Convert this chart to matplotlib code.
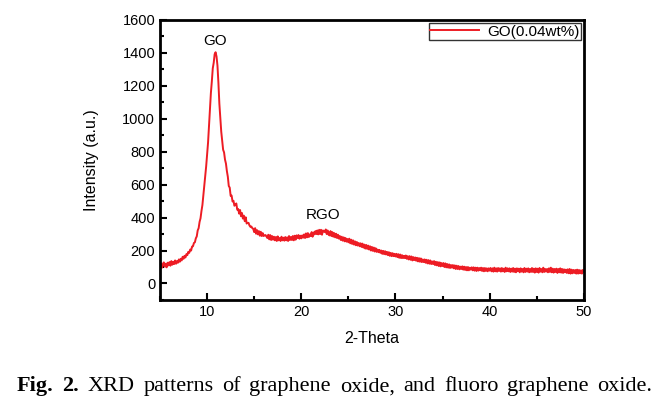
import numpy as np
import matplotlib
matplotlib.use("Agg")
from matplotlib import pyplot as plt
from matplotlib.ticker import MultipleLocator

plt.rcParams['font.family'] = ['Liberation Sans', 'DejaVu Sans']

# 2-theta from 5 to 50 deg, step 0.1
theta_start, theta_step = 5.0, 0.1
intensity = [
    100, 122, 96, 118, 128, 102, 120, 98, 126, 110,
    130, 108, 136, 114, 132, 118, 140, 120, 136, 126,
    146, 132, 150, 140, 162, 150, 168, 158, 178, 172,
    192, 186, 206, 200, 224, 226, 246, 250, 274, 286,
    322, 336, 374, 396, 440, 476, 534, 586, 654, 712,
    784, 856, 954, 1046, 1156, 1226, 1306, 1340, 1392, 1404,
    1378, 1322, 1218, 1092, 1008, 922, 868, 812, 796, 752,
    728, 682, 648, 592, 582, 532, 534, 498, 502, 472,
    478, 486, 448, 452, 424, 446, 408, 428, 394, 412,
    378, 402, 364, 368, 368, 352, 344, 346, 336, 332,
    312, 336, 302, 324, 298, 318, 290, 314, 288, 306,
    288, 292, 294, 286, 276, 296, 268, 294, 264, 288,
    266, 284, 262, 282, 258, 286, 262, 276, 258, 284,
    262, 278, 260, 282, 262, 280, 258, 288, 264, 282,
    264, 288, 262, 290, 266, 292, 276, 294, 272, 290,
    274, 292, 278, 298, 276, 304, 280, 306, 282, 298,
    288, 312, 284, 310, 298, 318, 300, 322, 298, 326,
    300, 326, 296, 322, 316, 312, 328, 300, 322, 296,
    292, 318, 288, 312, 284, 306, 280, 302, 276, 296,
    272, 288, 264, 284, 260, 280, 256, 276, 254, 270,
    250, 272, 244, 266, 240, 262, 236, 256, 232, 252,
    230, 246, 226, 244, 222, 242, 218, 236, 212, 234,
    210, 230, 206, 226, 200, 222, 198, 218, 194, 214,
    192, 206, 190, 204, 186, 200, 180, 198, 178, 196,
    176, 192, 172, 190, 168, 186, 166, 184, 166, 180,
    164, 180, 160, 178, 156, 176, 154, 172, 154, 168,
    154, 170, 150, 166, 146, 166, 144, 164, 140, 160,
    142, 158, 138, 156, 134, 154, 132, 152, 130, 146,
    130, 146, 126, 144, 122, 142, 120, 140, 118, 134,
    118, 136, 112, 132, 110, 130, 106, 128, 104, 124,
    106, 124, 100, 122, 98, 118, 96, 116, 94, 112,
    96, 112, 92, 110, 88, 108, 88, 106, 86, 102,
    88, 104, 84, 102, 82, 100, 80, 100, 80, 96,
    84, 98, 80, 98, 78, 96, 76, 96, 78, 94,
    80, 96, 76, 94, 74, 94, 76, 92, 74, 92,
    78, 94, 74, 92, 72, 96, 74, 92, 72, 94,
    76, 92, 72, 94, 74, 90, 70, 96, 74, 92,
    74, 92, 70, 90, 72, 94, 70, 90, 68, 92,
    74, 90, 68, 92, 72, 88, 68, 94, 70, 90,
    72, 92, 68, 88, 70, 94, 70, 90, 66, 92,
    70, 90, 66, 94, 72, 88, 68, 96, 70, 88,
    72, 88, 68, 92, 70, 96, 68, 90, 66, 88,
    70, 90, 64, 88, 68, 92, 66, 88, 64, 86,
    68, 84, 64, 86, 62, 88, 60, 84, 62, 82,
    64, 82, 60, 84, 60, 82, 62, 80, 60, 82,
    72,
]
two_theta = theta_start + theta_step * np.arange(len(intensity))

series_label = "GO(0.04wt%)"
peak_labels = ["GO", "RGO"]
peak_pos = [(10.8, 1430), (22.3, 375)]
caption_bold = ["Fig.", "2."]
caption_rest = "XRD patterns of graphene oxide, and fluoro graphene oxide.".split()

fig = plt.figure(figsize=(6.71, 4.07), dpi=100)
ax = fig.add_axes([0.2385, 0.263, 0.6315, 0.688])

ax.plot(two_theta, intensity, color='#ed1c24', lw=1.4, label=series_label)

ax.set_xlim(5, 50)
ax.set_ylim(-100, 1600)
ax.xaxis.set_major_locator(MultipleLocator(10))
ax.xaxis.set_minor_locator(MultipleLocator(5))
ax.yaxis.set_major_locator(MultipleLocator(200))
ax.yaxis.set_minor_locator(MultipleLocator(100))
ax.tick_params(which='both', direction='in', width=1.5, labelsize=10.5,
               top=False, right=False)
ax.tick_params(which='major', length=5)
ax.tick_params(which='minor', length=3)
for s in ax.spines.values():
    s.set_linewidth(2)

ax.set_xlabel("2-Theta", fontsize=11.5, labelpad=9)
ax.set_ylabel("Intensity (a.u.)", fontsize=11.5, labelpad=17)

for lab, (px, py) in zip(peak_labels, peak_pos):
    ax.text(px, py, lab, ha='center', va='bottom', fontsize=11)

leg = ax.legend(loc='upper right', fontsize=11, frameon=True, fancybox=False,
                borderaxespad=0.2, borderpad=0.1, handlelength=3.2,
                handletextpad=0.5)
leg.get_frame().set_edgecolor('black')
leg.get_frame().set_linewidth(1.0)

# justified caption line
renderer = fig.canvas.get_renderer()
words = [(w, 'bold') for w in caption_bold] + [(w, 'normal') for w in caption_rest]
arts = [fig.text(0, 0.039, w, fontsize=16, fontweight=fw,
                 family='Liberation Serif', va='baseline') for w, fw in words]
widths = [a.get_window_extent(renderer).width for a in arts]
x0, x1 = 17, 652
gap = (x1 - x0 - sum(widths)) / (len(arts) - 1)
x = x0
for a, wd in zip(arts, widths):
    a.set_x(x / fig.bbox.width)
    x += wd + gap

fig.savefig("out.png", dpi=100)
